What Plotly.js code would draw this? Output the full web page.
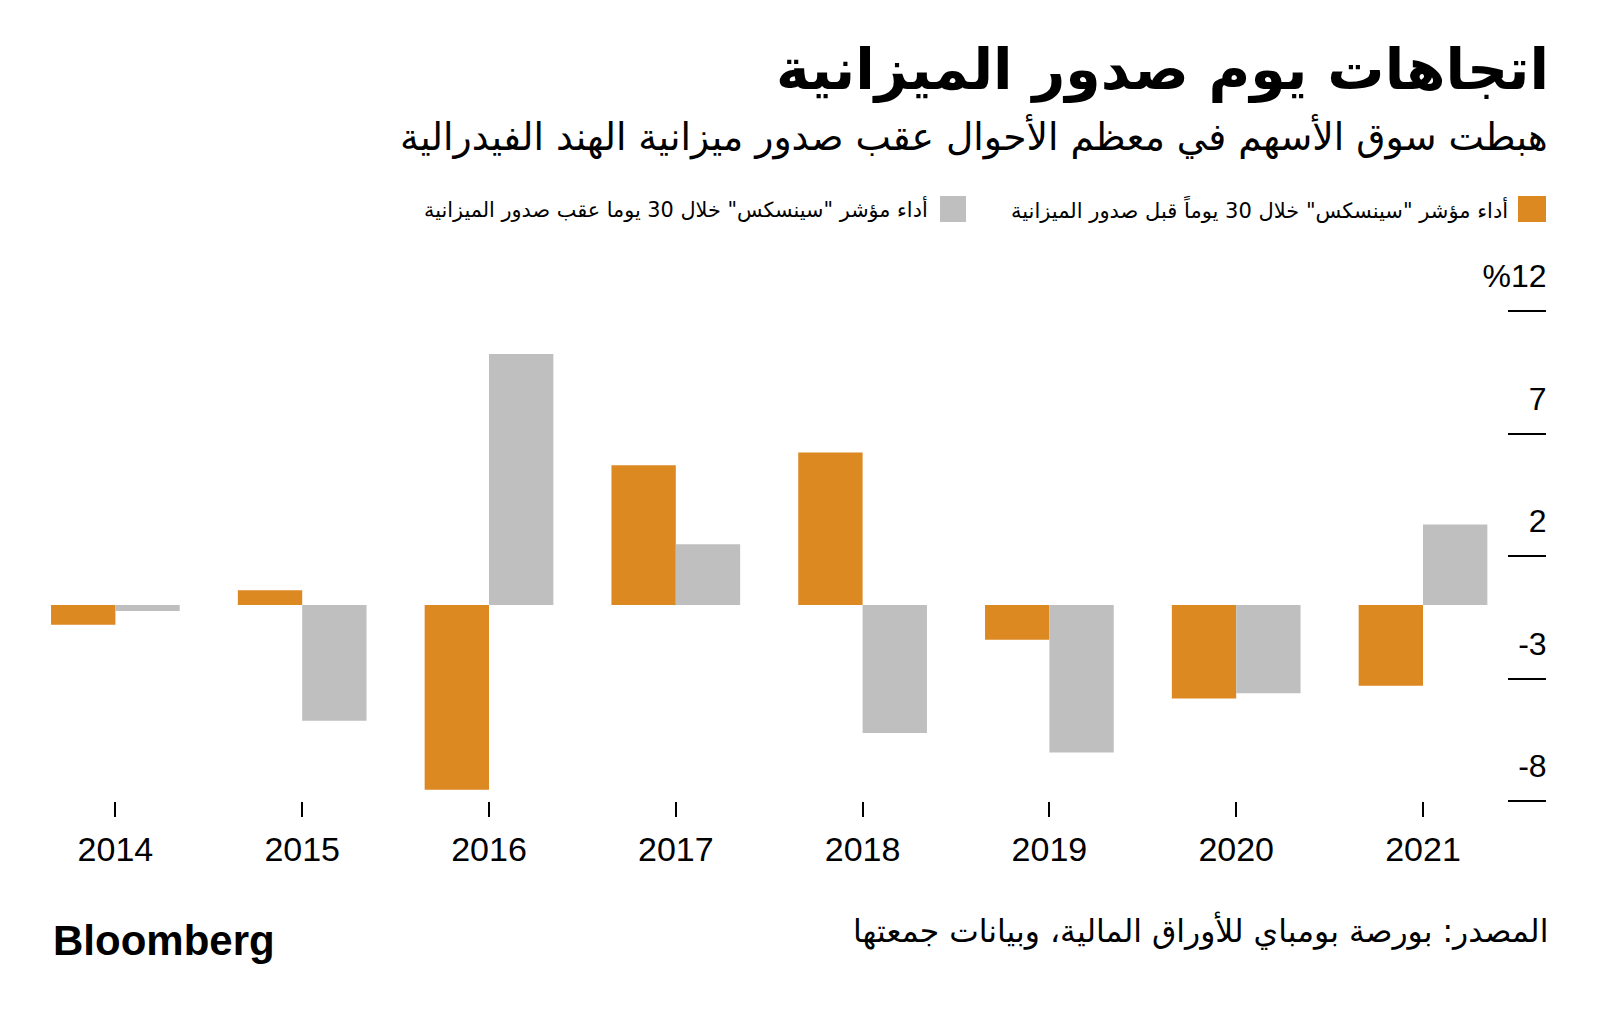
<!DOCTYPE html>
<html>
<head>
<meta charset="utf-8">
<script src="https://cdn.plot.ly/plotly-3.0.1.min.js"></script>
<style>
  html, body { margin: 0; padding: 0; background: #ffffff; }
  #chart { width: 1600px; height: 1018px; }
</style>
</head>
<body>
<div id="chart"></div>
<script>
// ---- data ----
const years = ['2014', '2015', '2016', '2017', '2018', '2019', '2020', '2021'];
const before30 = [-0.81, 0.6, -7.54, 5.7, 6.22, -1.42, -3.82, -3.3];
const after30 = [-0.24, -4.72, 10.24, 2.48, -5.22, -6.02, -3.6, 3.29];
const seriesNames = [
  'أداء مؤشر "سينسكس" خلال 30 يوماً قبل صدور الميزانية',
  'أداء مؤشر "سينسكس" خلال 30 يوما عقب صدور الميزانية'
];
const yTickVals = [-8, -3, 2, 7, 12];
const yTickText = ['-8', '-3', '2', '7', '%12'];
const titleText = 'اتجاهات يوم صدور الميزانية';
const subtitleText = 'هبطت سوق الأسهم في معظم الأحوال عقب صدور ميزانية الهند الفيدرالية';
const sourceText = 'المصدر: بورصة بومباي للأوراق المالية، وبيانات جمعتها';
const brandText = 'Bloomberg';

// ---- layout geometry (pixels) ----
const W = 1600, H = 1018;
const M = { l: 22, r: 54, t: 311, b: 217 };
const PW = W - M.l - M.r, PH = H - M.t - M.b;
const px = x => (x - M.l) / PW;
const py = y => (H - M.b - y) / PH;

const orange = '#DC8922';
const gray = '#BFBFBF';
const arFont = '"DejaVu Sans", sans-serif';
const latFont = '"Liberation Sans", Arial, sans-serif';

const traces = [
  { type: 'bar', x: years, y: before30, name: seriesNames[0], marker: { color: orange }, hoverinfo: 'x+y' },
  { type: 'bar', x: years, y: after30, name: seriesNames[1], marker: { color: gray }, hoverinfo: 'x+y' }
];

const layout = {
  width: W, height: H,
  margin: M,
  paper_bgcolor: '#ffffff',
  plot_bgcolor: '#ffffff',
  showlegend: false,
  barmode: 'group',
  bargap: 0.311,
  bargroupgap: 0,
  xaxis: {
    type: 'category',
    domain: [0, px(1516.4)],
    range: [-0.5, 7.5],
    showgrid: false, zeroline: false, showline: false,
    ticks: 'outside', ticklen: 15, tickwidth: 2, tickcolor: '#000',
    tickfont: { family: latFont, size: 34, color: '#000' },
    ticklabelstandoff: 3,
    automargin: false, fixedrange: true
  },
  yaxis: {
    anchor: 'free', position: 1, side: 'left',
    range: [-8, 12],
    tickmode: 'array', tickvals: yTickVals, ticktext: yTickText,
    showgrid: false, zeroline: false, showline: false,
    ticks: 'outside', ticklen: 38, tickwidth: 2, tickcolor: '#000',
    tickfont: { family: latFont, size: 32, color: '#000' },
    ticklabelshift: -35,
    ticklabelstandoff: -45,
    automargin: false, fixedrange: true
  },
  shapes: [
    { type: 'rect', xref: 'paper', yref: 'paper', x0: px(1518), x1: px(1546), y0: py(222), y1: py(196), fillcolor: orange, line: { width: 0 } },
    { type: 'rect', xref: 'paper', yref: 'paper', x0: px(940), x1: px(966), y0: py(222), y1: py(196), fillcolor: gray, line: { width: 0 } }
  ],
  annotations: [
    { text: '<b>' + titleText + '</b>', xref: 'paper', yref: 'paper', x: px(1551), y: py(69), xanchor: 'right', yanchor: 'middle', showarrow: false, font: { family: arFont, size: 57, color: '#000' } },
    { text: subtitleText, xref: 'paper', yref: 'paper', x: px(1550), y: py(137), xanchor: 'right', yanchor: 'middle', showarrow: false, font: { family: arFont, size: 37.7, color: '#000' } },
    { text: seriesNames[0], xref: 'paper', yref: 'paper', x: px(1510), y: py(209), xanchor: 'right', yanchor: 'middle', showarrow: false, font: { family: arFont, size: 21, color: '#000' } },
    { text: seriesNames[1], xref: 'paper', yref: 'paper', x: px(930), y: py(209), xanchor: 'right', yanchor: 'middle', showarrow: false, font: { family: arFont, size: 20.8, color: '#000' } },
    { text: sourceText, xref: 'paper', yref: 'paper', x: px(1550), y: py(930), xanchor: 'right', yanchor: 'middle', showarrow: false, font: { family: arFont, size: 31.4, color: '#000' } },
    { text: '<b>' + brandText + '</b>', xref: 'paper', yref: 'paper', x: px(51), y: py(940), xanchor: 'left', yanchor: 'middle', showarrow: false, font: { family: latFont, size: 42, color: '#000' } }
  ]
};

Plotly.newPlot('chart', traces, layout, { displayModeBar: false, staticPlot: true });
</script>
</body>
</html>
